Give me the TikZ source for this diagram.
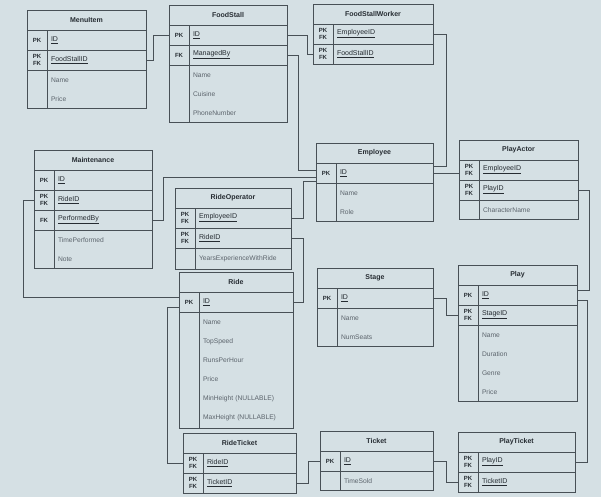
\documentclass[tikz,border=0pt]{standalone}
\usepackage{fontspec}
\setmainfont{Liberation Sans}

\definecolor{paper}{RGB}{213,224,228}
\definecolor{edge}{RGB}{72,80,86}
\definecolor{ink}{RGB}{38,44,50}
\definecolor{soft}{RGB}{92,100,108}

\newcommand{\erfont}{\fontsize{7}{7.5}\selectfont}
\newcommand{\keyfont}{\fontsize{6}{6.8}\selectfont\bfseries}
\newcommand{\attrfont}{\fontsize{6.7}{19}\selectfont}

\begin{document}
\begin{tikzpicture}[x=1pt, y=-1pt, font=\erfont, text=ink,
  box/.style={draw=edge, line width=0.9pt, inner sep=0pt, outer sep=0pt, anchor=north west},
  tabletitle/.style={box, minimum width=#1, minimum height=20pt, font=\erfont\bfseries},
  keycell/.style={box, minimum width=20pt, minimum height=20pt, align=center, font=\keyfont},
  fieldcell/.style={box, text width=#1, inner xsep=4pt, minimum height=20pt, align=left},
  attrcell/.style={box, text width=#1, inner xsep=4pt, inner ysep=7.5pt, align=left, font=\attrfont, text=soft},
  link/.style={draw=edge, line width=0.9pt}]

\useasboundingbox (0,0) rectangle (601,497);
\fill[paper] (0,0) rectangle (601,497);

% MenuItem
\node[tabletitle=119] (mi) at (27,10) {MenuItem};
\node[keycell] (mi-idk) at (mi.south west) {PK};
\node[fieldcell=91] (mi-id) at (mi-idk.north east) {\underline{ID}};
\node[keycell] (mi-fsidk) at (mi-idk.south west) {PK\\FK};
\node[fieldcell=91] (mi-fsid) at (mi-fsidk.north east) {\underline{FoodStallID}};
\node[attrcell=91] (mi-attr) at (mi-fsid.south west) {Name\\Price};
\draw[box] (mi-fsidk.south west) rectangle (mi-attr.south west);

% FoodStall
\node[tabletitle=118] (fs) at (169,5) {FoodStall};
\node[keycell] (fs-idk) at (fs.south west) {PK};
\node[fieldcell=90] (fs-id) at (fs-idk.north east) {\underline{ID}};
\node[keycell] (fs-byk) at (fs-idk.south west) {FK};
\node[fieldcell=90] (fs-by) at (fs-byk.north east) {\underline{ManagedBy}};
\node[attrcell=90] (fs-attr) at (fs-by.south west) {Name\\Cuisine\\PhoneNumber};
\draw[box] (fs-byk.south west) rectangle (fs-attr.south west);

% FoodStallWorker
\node[tabletitle=120] (fsw) at (313,4) {FoodStallWorker};
\node[keycell] (fsw-empk) at (fsw.south west) {PK\\FK};
\node[fieldcell=92] (fsw-emp) at (fsw-empk.north east) {\underline{EmployeeID}};
\node[keycell] (fsw-fsidk) at (fsw-empk.south west) {PK\\FK};
\node[fieldcell=92] (fsw-fsid) at (fsw-fsidk.north east) {\underline{FoodStallID}};

% Maintenance
\node[tabletitle=118] (mt) at (34,150) {Maintenance};
\node[keycell] (mt-idk) at (mt.south west) {PK};
\node[fieldcell=90] (mt-id) at (mt-idk.north east) {\underline{ID}};
\node[keycell] (mt-ridek) at (mt-idk.south west) {PK\\FK};
\node[fieldcell=90] (mt-ride) at (mt-ridek.north east) {\underline{RideID}};
\node[keycell] (mt-byk) at (mt-ridek.south west) {FK};
\node[fieldcell=90] (mt-by) at (mt-byk.north east) {\underline{PerformedBy}};
\node[attrcell=90] (mt-attr) at (mt-by.south west) {TimePerformed\\Note};
\draw[box] (mt-byk.south west) rectangle (mt-attr.south west);

% RideOperator
\node[tabletitle=116] (ro) at (175,188) {RideOperator};
\node[keycell] (ro-empk) at (ro.south west) {PK\\FK};
\node[fieldcell=88] (ro-emp) at (ro-empk.north east) {\underline{EmployeeID}};
\node[keycell] (ro-ridek) at (ro-empk.south west) {PK\\FK};
\node[fieldcell=88] (ro-ride) at (ro-ridek.north east) {\underline{RideID}};
\node[attrcell=88] (ro-attr) at (ro-ride.south west) {YearsExperienceWithRide};
\draw[box] (ro-ridek.south west) rectangle (ro-attr.south west);

% Employee
\node[tabletitle=117] (emp) at (316,143) {Employee};
\node[keycell] (emp-idk) at (emp.south west) {PK};
\node[fieldcell=89] (emp-id) at (emp-idk.north east) {\underline{ID}};
\node[attrcell=89] (emp-attr) at (emp-id.south west) {Name\\Role};
\draw[box] (emp-idk.south west) rectangle (emp-attr.south west);

% PlayActor
\node[tabletitle=119] (pa) at (459,140) {PlayActor};
\node[keycell] (pa-empk) at (pa.south west) {PK\\FK};
\node[fieldcell=91] (pa-emp) at (pa-empk.north east) {\underline{EmployeeID}};
\node[keycell] (pa-playk) at (pa-empk.south west) {PK\\FK};
\node[fieldcell=91] (pa-play) at (pa-playk.north east) {\underline{PlayID}};
\node[attrcell=91] (pa-attr) at (pa-play.south west) {CharacterName};
\draw[box] (pa-playk.south west) rectangle (pa-attr.south west);

% Ride
\node[tabletitle=114] (ride) at (179,272) {Ride};
\node[keycell] (ride-idk) at (ride.south west) {PK};
\node[fieldcell=86] (ride-id) at (ride-idk.north east) {\underline{ID}};
\node[attrcell=86] (ride-attr) at (ride-id.south west) {Name\\TopSpeed\\RunsPerHour\\Price\\MinHeight (NULLABLE)\\MaxHeight (NULLABLE)};
\draw[box] (ride-idk.south west) rectangle (ride-attr.south west);

% Stage
\node[tabletitle=116] (st) at (317,268) {Stage};
\node[keycell] (st-idk) at (st.south west) {PK};
\node[fieldcell=88] (st-id) at (st-idk.north east) {\underline{ID}};
\node[attrcell=88] (st-attr) at (st-id.south west) {Name\\NumSeats};
\draw[box] (st-idk.south west) rectangle (st-attr.south west);

% Play
\node[tabletitle=119] (pl) at (458,265) {Play};
\node[keycell] (pl-idk) at (pl.south west) {PK};
\node[fieldcell=91] (pl-id) at (pl-idk.north east) {\underline{ID}};
\node[keycell] (pl-stagek) at (pl-idk.south west) {PK\\FK};
\node[fieldcell=91] (pl-stage) at (pl-stagek.north east) {\underline{StageID}};
\node[attrcell=91] (pl-attr) at (pl-stage.south west) {Name\\Duration\\Genre\\Price};
\draw[box] (pl-stagek.south west) rectangle (pl-attr.south west);

% RideTicket
\node[tabletitle=113] (rt) at (183,433) {RideTicket};
\node[keycell] (rt-ridek) at (rt.south west) {PK\\FK};
\node[fieldcell=85] (rt-ride) at (rt-ridek.north east) {\underline{RideID}};
\node[keycell] (rt-tickk) at (rt-ridek.south west) {PK\\FK};
\node[fieldcell=85] (rt-tick) at (rt-tickk.north east) {\underline{TicketID}};

% Ticket
\node[tabletitle=113] (tk) at (320,431) {Ticket};
\node[keycell] (tk-idk) at (tk.south west) {PK};
\node[fieldcell=85] (tk-id) at (tk-idk.north east) {\underline{ID}};
\node[attrcell=85] (tk-attr) at (tk-id.south west) {TimeSold};
\draw[box] (tk-idk.south west) rectangle (tk-attr.south west);

% PlayTicket
\node[tabletitle=117] (pt) at (458,432) {PlayTicket};
\node[keycell] (pt-playk) at (pt.south west) {PK\\FK};
\node[fieldcell=89] (pt-play) at (pt-playk.north east) {\underline{PlayID}};
\node[keycell] (pt-tickk) at (pt-playk.south west) {PK\\FK};
\node[fieldcell=89] (pt-tick) at (pt-tickk.north east) {\underline{TicketID}};

% relations
\draw[link] (mi-fsid.east) -- ++(7,0) |- (fs-idk.west);
\draw[link] (fs-id.east) -- ++(20,0) |- (fsw-fsidk.west);
\draw[link] (fs-by.east) -- ++(11,0) |- ([yshift=3pt]emp-idk.west);
\draw[link] (mt-by.east) -- ++(11,0) |- ([yshift=-4pt]emp-idk.west);
\draw[link] (ro-emp.east) -- ++(12,0) |- ([yshift=-8pt]emp-idk.west);
\draw[link] (ro-ride.east) -- ++(12,0) |- (ride-id.east);
\draw[link] (mt-ridek.west) -- ++(-11,0) |- ([yshift=5pt]ride-idk.west);
\draw[link] ([yshift=-5pt]ride-idk.west) -- ++(-12,0) |- (rt-ridek.west);
\draw[link] (rt-tick.east) -- ++(12,0) |- (tk-idk.west);
\draw[link] (tk-id.east) -- ++(13,0) |- (pt-tickk.west);
\draw[link] ([yshift=-5pt]pl-id.east) -- ++(10,0) |- (pt-play.east);
\draw[link] (pa-play.east) -- ++(11,0) |- ([yshift=5pt]pl-id.east);
\draw[link] (st-id.east) -- ++(13,0) |- (pl-stagek.west);
\draw[link] (emp-id.east) -- (emp-id.east -| pa-empk.west);
\draw[link] (fsw-emp.east) -- ++(13,0) |- ([yshift=7pt]emp-id.east);
\end{tikzpicture}
\end{document}
